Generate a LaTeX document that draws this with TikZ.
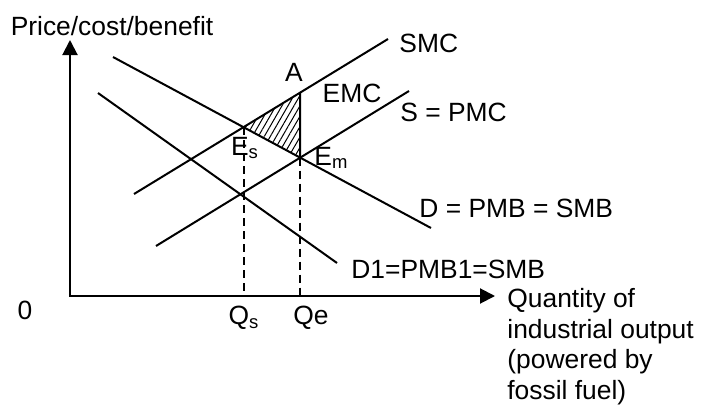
\documentclass[tikz,border=0pt]{standalone}
\usepackage{fontspec}
\setmainfont{Liberation Sans}
\usetikzlibrary{arrows.meta,patterns.meta}

\begin{document}
\begin{tikzpicture}[x=0.5pt,y=-0.5pt, every node/.style={font=\fontsize{13.2}{15.3}\selectfont,inner sep=0pt}, curve/.style={line width=1pt}, axis/.style={line width=1pt,{Triangle[width=7.5pt,length=7.5pt]}-{Triangle[width=7.5pt,length=7.5pt]}}, guide/.style={line width=1pt,dash pattern=on 4pt off 2.5pt}, lbl/.style={anchor=west}]
\useasboundingbox (0,0) rectangle (701,407);
% axes
\coordinate (O) at (70,296);
\coordinate (ytip) at (70,40);
\coordinate (xtip) at (495,296);
% curve end points
\coordinate (smc0) at (134,194); \coordinate (smc1) at (388,39);
\coordinate (pmc0) at (156,246); \coordinate (pmc1) at (409,91);
\coordinate (d0) at (113,57); \coordinate (d1) at (431,228);
\coordinate (dd0) at (98,93); \coordinate (dd1) at (337,263);
% equilibria
\coordinate (Es) at (intersection of smc0--smc1 and d0--d1);
\coordinate (Em) at (intersection of pmc0--pmc1 and d0--d1);
\coordinate (qs) at (Es |- O);
\coordinate (qe) at (Em |- O);
\coordinate (A) at (intersection of smc0--smc1 and Em--qe);
\fill[pattern={Lines[angle=60,distance=2.6pt,line width=0.5pt]}] (Es) -- (A) -- (Em) -- cycle;
\draw[curve] (A) -- (Em);
\draw[guide] (Es) -- (qs);
\draw[guide] (Em) -- (qe);
\draw[curve] (smc0) -- (smc1);
\draw[curve] (pmc0) -- (pmc1);
\draw[curve] (d0) -- (d1);
\draw[curve] (dd0) -- (dd1);
\draw[axis] (ytip) -- (O) -- (xtip);
% labels
\node (ylabel) at (112,26) {Price/cost/benefit};
\node (zero) at (25,310) {0};
\node[anchor=north west,align=left] (xlabel) at (507,288) {Quantity of\\industrial output\\(powered by\\fossil fuel)};
\node[lbl] (smclabel) at (399,43) {SMC};
\node[lbl] (pmclabel) at (400,112) {S = PMC};
\node (emclabel) at (352,93) {EMC};
\node (alabel) at (294,72) {A};
\node (eslabel) at (245,148) {E\textsubscript{s}};
\node[lbl] (emlabel) at (314,158) {E\textsubscript{m}};
\node[lbl] (dlabel) at (419,208) {D = PMB = SMB};
\node[lbl] (ddlabel) at (351,269) {D1=PMB1=SMB};
\node (qslabel) at (244,318) {Q\textsubscript{s}};
\node (qelabel) at (311,318) {Qe};
\end{tikzpicture}
\end{document}
